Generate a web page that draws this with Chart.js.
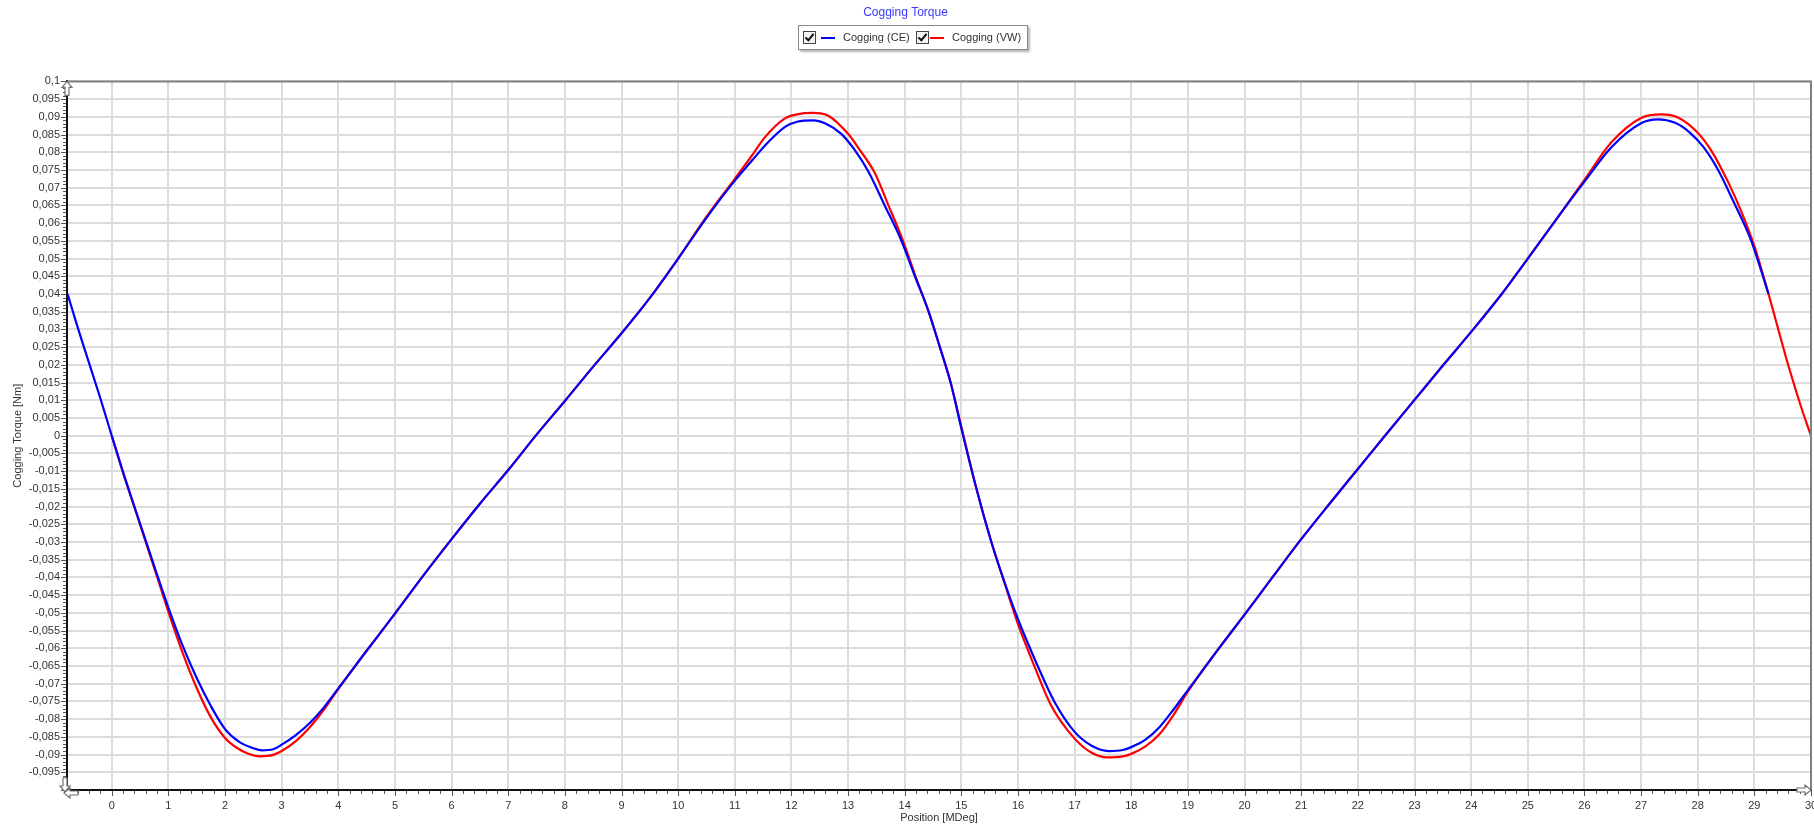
<!DOCTYPE html>
<html>
<head>
<meta charset="utf-8">
<script src="https://cdn.jsdelivr.net/npm/chart.js@4.4.1/dist/chart.umd.min.js"></script>
<style>
  html, body { margin: 0; padding: 0; background: #fff; }
  #wrap { position: relative; width: 1814px; height: 825px; }
  #leyenda {
    position: absolute; left: 798px; top: 25px; width: 230px; height: 25px;
    border: 1px solid #8a8a8a; box-shadow: 2px 2px 2px #b5b5b5; background: #fff;
    font: 11px "Liberation Sans", Arial, sans-serif; color: #333;
    box-sizing: border-box;
  }
  .item { position: absolute; top: 5px; height: 13px; line-height: 13px; white-space: nowrap; }
  .cb { position: absolute; top: 0; width: 11px; height: 11px; border: 1px solid #444; background: #f4f4f4; }
  .cb::after {
    content: ''; position: absolute; left: 3px; top: 0px; width: 3px; height: 7px;
    border: solid #111; border-width: 0 2px 2px 0; transform: rotate(40deg);
  }
  .raya { position: absolute; top: 6px; width: 14px; height: 2px; }
  .txt { position: absolute; top: 0; }
</style>
</head>
<body>
<div id="wrap">
  <canvas id="grafico" width="1814" height="825"></canvas>
  <div id="leyenda">
    <div class="item" style="left:4px"><span class="cb"></span><span class="raya" style="left:18px;background:#0000ff"></span><span class="txt" style="left:40px">Cogging (CE)</span></div>
    <div class="item" style="left:117px"><span class="cb"></span><span class="raya" style="left:14px;background:#ff0000"></span><span class="txt" style="left:36px">Cogging (VW)</span></div>
  </div>
</div>
<script>
// Posición [MDeg] y par [Nm]
const posCE = [-0.78, -0.6, -0.4, -0.2, 0, 0.2, 0.4, 0.6, 0.8, 1.0, 1.25, 1.5, 1.75, 2.0, 2.25, 2.5, 2.65, 2.85, 3.0, 3.25,
  3.5, 3.75, 4.0, 4.25, 4.5, 4.75, 5.0, 5.5, 6.0, 6.5, 7.0, 7.5, 8.0, 8.5, 9.0, 9.5, 10.0, 10.5, 11.0, 11.3,
  11.55, 11.9, 12.1, 12.38, 12.6, 12.88, 13.1, 13.36, 13.64, 13.94, 14.18, 14.42, 14.62, 14.81, 15.0, 15.25, 15.52, 15.75, 16.0, 16.34,
  16.64, 17.0, 17.3, 17.6, 17.85, 18.0, 18.25, 18.5, 18.75, 19.0, 19.5, 20.0, 20.5, 21.0, 21.5, 22.0, 22.5, 23.0, 23.5, 24.0,
  24.54, 25.0, 25.5, 26.0, 26.48, 27.0, 27.3, 27.6, 27.85, 28.1, 28.36, 28.64, 28.94, 29.25];
const torqueCE = [0.040, 0.0305, 0.0205, 0.0105, 0.0, -0.0103, -0.0200, -0.0296, -0.0392, -0.0485, -0.0592, -0.0684, -0.0763, -0.0828, -0.0864, -0.0882, -0.0888, -0.0885, -0.0872, -0.0845,
  -0.0810, -0.0766, -0.0713, -0.0660, -0.0607, -0.0555, -0.0502, -0.0395, -0.0292, -0.0192, -0.0097, 0.0003, 0.0098, 0.0195, 0.0289, 0.0389, 0.0500, 0.0615, 0.0720, 0.0776,
  0.0822, 0.0873, 0.0886, 0.0890, 0.0881, 0.0852, 0.0810, 0.0745, 0.0652, 0.0551, 0.0450, 0.0351, 0.0250, 0.0150, 0.0020, -0.0140, -0.0295, -0.0408, -0.0518, -0.0647,
  -0.0750, -0.0836, -0.0875, -0.0890, -0.0887, -0.0879, -0.0858, -0.0822, -0.0772, -0.0718, -0.0610, -0.0505, -0.0398, -0.0292, -0.0192, -0.0094, 0.0004, 0.0101, 0.0198, 0.0293,
  0.0400, 0.0500, 0.0610, 0.0717, 0.0815, 0.0882, 0.0893, 0.0883, 0.0857, 0.0815, 0.0750, 0.0658, 0.0552, 0.0400];

const posVW = [0, 0.2, 0.4, 0.6, 0.8, 1.0, 1.25, 1.5, 1.75, 2.0, 2.2, 2.4, 2.62, 2.85, 3.0, 3.25, 3.5, 3.75, 4.0, 4.5,
  5.0, 5.5, 6.0, 6.5, 7.0, 7.5, 8.0, 8.5, 9.0, 9.5, 10.0, 10.5, 11.0, 11.29, 11.53, 11.88, 12.1, 12.38, 12.65, 13.0,
  13.2, 13.47, 13.71, 13.97, 14.19, 14.42, 14.62, 14.81, 15.0, 15.25, 15.52, 15.75, 16.0, 16.28, 16.58, 17.0, 17.3, 17.58, 17.85, 18.0,
  18.25, 18.5, 18.75, 19.0, 19.5, 20.0, 20.5, 21.0, 21.5, 22.0, 22.5, 23.0, 23.5, 24.0, 24.54, 25.0, 25.5, 26.0, 26.48, 27.0,
  27.36, 27.65, 28.0, 28.25, 28.54, 28.75, 29.0, 29.25, 29.6, 29.84, 30.0];
const torqueVW = [0.0, -0.0105, -0.0202, -0.0300, -0.0398, -0.0497, -0.0612, -0.0712, -0.0795, -0.0853, -0.0880, -0.0897, -0.0905, -0.0901, -0.0890, -0.0862, -0.0822, -0.0772, -0.0715, -0.0607,
  -0.0502, -0.0395, -0.0292, -0.0192, -0.0097, 0.0003, 0.0098, 0.0195, 0.0289, 0.0389, 0.0500, 0.0618, 0.0725, 0.0788, 0.0842, 0.0895, 0.0907, 0.0911, 0.0903, 0.0852,
  0.0808, 0.0742, 0.0651, 0.0550, 0.0450, 0.0351, 0.0250, 0.0150, 0.0025, -0.0140, -0.0295, -0.0410, -0.0532, -0.0647, -0.0760, -0.0855, -0.0895, -0.0908, -0.0905, -0.0898,
  -0.0877, -0.0842, -0.0787, -0.0722, -0.0610, -0.0505, -0.0398, -0.0292, -0.0192, -0.0094, 0.0004, 0.0101, 0.0198, 0.0293, 0.0400, 0.0500, 0.0610, 0.0722, 0.0829, 0.0897,
  0.0907, 0.0898, 0.0855, 0.0802, 0.0715, 0.0640, 0.0535, 0.0400, 0.0198, 0.0074, 0.0];

// Marcas de los ejes
const ticksX = [0, 1, 2, 3, 4, 5, 6, 7, 8, 9, 10, 11, 12, 13, 14, 15, 16, 17, 18, 19, 20, 21, 22, 23, 24, 25, 26, 27, 28, 29, 30];
const ticksY = [-0.1, -0.095, -0.09, -0.085, -0.08, -0.075, -0.07, -0.065, -0.06, -0.055, -0.05, -0.045, -0.04, -0.035, -0.03, -0.025, -0.02, -0.015, -0.01, -0.005,
  0, 0.005, 0.01, 0.015, 0.02, 0.025, 0.03, 0.035, 0.04, 0.045, 0.05, 0.055, 0.06, 0.065, 0.07, 0.075, 0.08, 0.085, 0.09, 0.095, 0.1];

const fuente = '"Liberation Sans", Arial, sans-serif';

function puntos(xs, ys) {
  return xs.map((x, i) => ({ x: x, y: ys[i] }));
}

// flecha hueca (gris) en los extremos de los ejes
function flecha(ctx, x, y, dir) {
  ctx.save();
  ctx.translate(x, y);
  ctx.rotate(dir);
  ctx.beginPath();
  ctx.moveTo(0, 0);
  ctx.lineTo(-6, 5);
  ctx.lineTo(-6, 2);
  ctx.lineTo(-14, 2);
  ctx.lineTo(-14, -2);
  ctx.lineTo(-6, -2);
  ctx.lineTo(-6, -5);
  ctx.closePath();
  ctx.fillStyle = '#fff';
  ctx.fill();
  ctx.strokeStyle = '#707070';
  ctx.lineWidth = 1.2;
  ctx.stroke();
  ctx.restore();
}

const decoracion = {
  id: 'decoracion',
  afterDraw(chart) {
    const ctx = chart.ctx;
    const a = chart.chartArea;
    const sx = chart.scales.x;
    const sy = chart.scales.y;
    ctx.save();
    // borde superior y derecho
    ctx.strokeStyle = '#808080';
    ctx.lineWidth = 2;
    ctx.beginPath();
    ctx.moveTo(a.left, a.top);
    ctx.lineTo(a.right, a.top);
    ctx.lineTo(a.right, a.bottom);
    ctx.stroke();
    // marcas menores
    ctx.strokeStyle = '#555';
    ctx.lineWidth = 1;
    ctx.beginPath();
    for (let i = -3; i <= 150; i++) {
      const v = i * 0.2;
      const px = Math.round(sx.getPixelForValue(v)) + 0.5;
      const largo = i % 5 === 0 ? 5 : 3;
      ctx.moveTo(px, a.bottom + 1);
      ctx.lineTo(px, a.bottom + 1 + largo);
    }
    for (let i = -100; i <= 100; i++) {
      const v = i * 0.001;
      const py = Math.round(sy.getPixelForValue(v)) + 0.5;
      const largo = i % 5 === 0 ? 5 : 3;
      ctx.moveTo(a.left - 1, py);
      ctx.lineTo(a.left - 1 - largo, py);
    }
    ctx.stroke();
    ctx.restore();
    flecha(ctx, a.left, a.top, -Math.PI / 2);
    flecha(ctx, a.right, a.bottom, 0);
    flecha(ctx, a.left - 2, a.bottom + 2, Math.PI / 2);
    flecha(ctx, a.left - 3, a.bottom + 3, Math.PI);
  }
};

new Chart(document.getElementById('grafico'), {
  type: 'scatter',
  data: {
    datasets: [
      {
        label: 'Cogging (CE)',
        data: puntos(posCE, torqueCE),
        showLine: true,
        borderColor: '#0000ff',
        backgroundColor: '#0000ff',
        borderWidth: 2.2,
        pointRadius: 0,
        cubicInterpolationMode: 'monotone'
      },
      {
        label: 'Cogging (VW)',
        data: puntos(posVW, torqueVW),
        showLine: true,
        borderColor: '#ff0000',
        backgroundColor: '#ff0000',
        borderWidth: 2.2,
        pointRadius: 0,
        cubicInterpolationMode: 'monotone'
      }
    ]
  },
  options: {
    responsive: false,
    animation: false,
    devicePixelRatio: 1,
    layout: { padding: { left: 0, right: 3, top: 0, bottom: 0 } },
    plugins: {
      legend: { display: false },
      tooltip: { enabled: false },
      title: {
        display: true,
        text: 'Cogging Torque',
        color: '#3a3aff',
        font: { family: fuente, size: 12, weight: 'normal' },
        padding: { top: 5, bottom: 62 }
      }
    },
    scales: {
      x: {
        type: 'linear',
        min: -0.79,
        max: 30,
        afterBuildTicks: s => { s.ticks = ticksX.map(v => ({ value: v })); },
        afterFit: s => { s.height = 35; s.paddingLeft = 0; s.paddingRight = 0; },
        grid: { color: '#dcdcdc', lineWidth: 2, drawTicks: false },
        border: { color: '#111', width: 2 },
        ticks: {
          autoSkip: false,
          maxRotation: 0,
          padding: 9,
          color: '#333',
          font: { family: fuente, size: 11 },
          callback: v => String(v)
        },
        title: {
          display: true,
          text: 'Position [MDeg]',
          color: '#333',
          font: { family: fuente, size: 11 },
          padding: { top: 0, bottom: 0 }
        }
      },
      y: {
        type: 'linear',
        min: -0.1,
        max: 0.1,
        afterBuildTicks: s => { s.ticks = ticksY.map(v => ({ value: v })); },
        afterFit: s => { s.width = 67; s.paddingTop = 0; s.paddingBottom = 0; },
        grid: { color: '#dcdcdc', lineWidth: 2, drawTicks: false },
        border: { color: '#111', width: 2 },
        ticks: {
          autoSkip: false,
          padding: 7,
          color: '#333',
          font: { family: fuente, size: 11 },
          callback: v => (Math.abs(v + 0.1) < 1e-9 ? '' : String(+v.toFixed(3)).replace('.', ','))
        },
        title: {
          display: true,
          text: 'Cogging Torque [Nm]',
          color: '#333',
          font: { family: fuente, size: 11 },
          padding: { top: 11, bottom: 0 }
        }
      }
    }
  },
  plugins: [decoracion]
});
</script>
</body>
</html>
